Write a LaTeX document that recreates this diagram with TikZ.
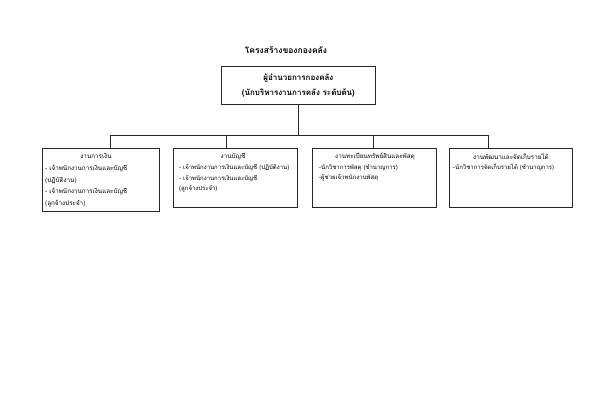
\documentclass[tikz,border=0pt]{standalone}
\usepackage{fontspec}
\newfontfamily\thai[Script=Thai]{Loma}
\begin{document}
\begin{tikzpicture}[x=1pt,y=-1pt,
  box/.style={draw=black!85,line width=0.8pt,anchor=north west,inner sep=0pt},
  txt/.style={font=\thai\fontsize{6}{10.8}\selectfont,inner sep=0pt,align=left,anchor=north west},
  head/.style={font=\thai\fontsize{6.3}{9}\selectfont,inner sep=0pt},
  conn/.style={draw=black!85,line width=0.8pt}]
\useasboundingbox[fill=white] (0,0) rectangle (600,420);
% title
\node[font=\thai\fontsize{8.5}{10}\selectfont\bfseries] (title) at (286,50) {โครงสร้างของกองคลัง};
% top box
\node[box,minimum width=154,minimum height=38] (top) at (221,66) {};
\node[font=\thai\fontsize{8}{15}\selectfont\bfseries,align=center,inner sep=0pt] (toptxt) at (top.center) {ผู้อำนวยการกองคลัง\\(นักบริหารงานการคลัง ระดับต้น)};
% boxes
\node[box,minimum width=117,minimum height=63] (b1) at (42,148) {};
\node[box,minimum width=124,minimum height=59] (b2) at (173,148) {};
\node[box,minimum width=124,minimum height=59] (b3) at (312,148) {};
\node[box,minimum width=123,minimum height=59] (b4) at (449,148) {};
% headings
\node[head] (h1t) at (96,156) {งานการเงิน};
\node[head] (h2t) at (233,157) {งานบัญชี};
\node[head] (h3t) at (375,157) {งานทะเบียนทรัพย์สินและพัสดุ};
\node[head] (h4t) at (511,157) {งานพัฒนาและจัดเก็บรายได้};
% body texts
\node[txt,font=\thai\fontsize{6.3}{11.6}\selectfont] (t1) at (45,165) {- เจ้าพนักงานการเงินและบัญชี\\(ปฏิบัติงาน)\\- เจ้าพนักงานการเงินและบัญชี\\(ลูกจ้างประจำ)};
\node[txt] (t2) at (179,164) {- เจ้าพนักงานการเงินและบัญชี (ปฏิบัติงาน)\\- เจ้าพนักงานการเงินและบัญชี\\(ลูกจ้างประจำ)};
\node[txt] (t3) at (319,164) {-นักวิชาการพัสดุ (ชำนาญการ)\\-ผู้ช่วยเจ้าพนักงานพัสดุ};
\node[txt] (t4) at (453,164) {-นักวิชาการจัดเก็บรายได้ (ชำนาญการ)};
% connectors
\coordinate (j) at (top.south |- 0,135);
\coordinate (d1) at (110,135);
\coordinate (d2) at (226,135);
\coordinate (d3) at (373,135);
\coordinate (d4) at (488,135);
\draw[conn] (top.south) -- (j);
\draw[conn] (d1) -- (d4);
\draw[conn] (d1) -- (d1 |- b1.north);
\draw[conn] (d2) -- (d2 |- b2.north);
\draw[conn] (d3) -- (d3 |- b3.north);
\draw[conn] (d4) -- (d4 |- b4.north);
\end{tikzpicture}
\end{document}
